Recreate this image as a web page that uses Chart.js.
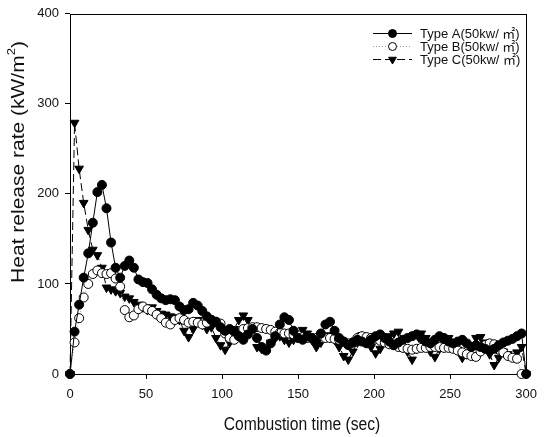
<!DOCTYPE html>
<html>
<head>
<meta charset="utf-8">
<title>Heat release rate</title>
<script src="https://cdn.jsdelivr.net/npm/chart.js@4.4.1/dist/chart.umd.min.js"></script>
<style>
    html, body { margin: 0; padding: 0; background: #fff; }
    #wrap { width: 545px; height: 437px; }
</style>
</head>
<body>
<div id="wrap"><canvas id="hrr" width="545" height="437"></canvas></div>
<script>
// Время горения, с (шаг 3 с)
const timeSec = [
    0, 3, 6, 9, 12, 15, 18, 21, 24, 27, 30, 33, 36, 39, 42, 45, 48, 51, 54, 57,
    60, 63, 66, 69, 72, 75, 78, 81, 84, 87, 90, 93, 96, 99, 102, 105, 108, 111, 114, 117,
    120, 123, 126, 129, 132, 135, 138, 141, 144, 147, 150, 153, 156, 159, 162, 165, 168, 171, 174, 177,
    180, 183, 186, 189, 192, 195, 198, 201, 204, 207, 210, 213, 216, 219, 222, 225, 228, 231, 234, 237,
    240, 243, 246, 249, 252, 255, 258, 261, 264, 267, 270, 273, 276, 279, 282, 285, 288, 291, 294, 297,
    300
];

// Type A (50kw/㎡)
const typeA = [
    0, 47, 77, 107, 134, 168, 202, 210, 184, 146, 118, 107, 120, 126, 118, 105, 102, 101, 94, 88,
    84, 82, 83, 82, 75, 71, 72, 79, 76, 70, 64, 60, 58, 52, 48, 50, 47, 42, 38, 44,
    50, 40, 30, 26, 34, 42, 55, 63, 60, 48, 40, 38, 42, 40, 36, 45, 55, 58, 48, 40,
    36, 32, 35, 38, 36, 34, 38, 42, 44, 40, 36, 32, 35, 38, 40, 42, 44, 40, 36, 34,
    38, 42, 40, 36, 34, 36, 38, 34, 30, 32, 30, 28, 26, 28, 32, 35, 37, 39, 42, 45,
    0
];

// Type B (50kw/㎡)
const typeB = [
    0, 35, 62, 85, 100, 111, 115, 112, 111, 112, 106, 97, 71, 63, 65, 72, 75, 72, 70, 66,
    62, 57, 55, 60, 62, 60, 57, 58, 57, 55, 57, 60, 58, 56, 45, 40, 38, 45, 50, 51,
    52, 52, 51, 50, 49, 47, 46, 45, 45, 44, 43, 41, 40, 40, 40, 40, 40, 40, 39, 38,
    36, 34, 35, 40, 42, 41, 40, 39, 37, 35, 33, 32, 30, 29, 28, 27, 28, 29, 29, 30,
    30, 30, 29, 29, 28, 26, 24, 22, 20, 19, 25, 32, 34, 33, 27, 24, 20, 18, 17, 0,
    null
];

// Type C (50kw/㎡)
const typeC = [
    0, 279, 228, 190, 160, 138, 132, 118, 96, 94, 92, 90, 86, 84, 80, 77, 74, 71, 74, 70,
    67, 66, 64, 63, 60, 48, 41, 50, 60, 55, 50, 52, 40, 32, 27, 35, 50, 60, 65, 60,
    52, 30, 28, 27, 35, 40, 42, 38, 35, 38, 44, 49, 45, 38, 30, 35, 40, 43, 38, 30,
    20, 16, 25, 35, 43, 38, 30, 23, 28, 36, 42, 45, 47, 38, 25, 16, 28, 45, 40, 25,
    19, 28, 35, 40, 35, 27, 18, 22, 32, 40, 41, 35, 22, 10, 18, 25, 22, 19, 24, 30,
    0
];

const seriesLabels = ['Type A(50kw/ \u33A1)', 'Type B(50kw/ \u33A1)', 'Type C(50kw/ \u33A1)'];
const xTicks = [0, 50, 100, 150, 200, 250, 300];
const yTicks = [0, 100, 200, 300, 400];

const FONT = 'Arial, "Liberation Sans", "Noto Sans CJK KR", sans-serif';

function toPoints(values) {
    return timeSec.map((t, i) => ({ x: t, y: values[i] }));
}

// Рамка вокруг области построения
const framePlugin = {
    id: 'frame',
    beforeDatasetsDraw(chart) {
        const a = chart.chartArea;
        const ctx = chart.ctx;
        ctx.save();
        ctx.strokeStyle = '#000';
        ctx.lineWidth = 1;
        ctx.strokeRect(Math.round(a.left) + 0.5, Math.round(a.top) + 0.5,
            Math.round(a.right - a.left), Math.round(a.bottom - a.top));
        ctx.restore();
    }
};

// Подписи осей (текст в оригинале слегка сжат по горизонтали)
const axisTitlePlugin = {
    id: 'axisTitles',
    afterDraw(chart) {
        const ctx = chart.ctx;
        ctx.save();
        ctx.fillStyle = '#111';
        ctx.textBaseline = 'middle';

        // ось X
        ctx.save();
        ctx.translate(302, 425);
        ctx.scale(0.87, 1);
        ctx.font = '18px ' + FONT;
        ctx.textAlign = 'center';
        ctx.fillText('Combustion time (sec)', 0, 0);
        ctx.restore();

        // ось Y с верхним индексом
        ctx.save();
        ctx.translate(19, 162);
        ctx.rotate(-Math.PI / 2);
        ctx.scale(1, 0.85);
        ctx.font = '21px ' + FONT;
        const main = 'Heat release rate (kW/m';
        const supFont = '13px ' + FONT;
        const wMain = ctx.measureText(main).width;
        const wClose = ctx.measureText(')').width;
        ctx.font = supFont;
        const wSup = ctx.measureText('2').width;
        const total = wMain + wSup + wClose;
        let x0 = -total / 2;
        ctx.textAlign = 'left';
        ctx.font = '21px ' + FONT;
        ctx.fillText(main, x0, 0);
        ctx.font = supFont;
        ctx.fillText('2', x0 + wMain, -8);
        ctx.font = '21px ' + FONT;
        ctx.fillText(')', x0 + wMain + wSup, 0);
        ctx.restore();

        ctx.restore();
    }
};

// Легенда в правом верхнем углу, как в SigmaPlot
const legendPlugin = {
    id: 'cornerLegend',
    afterDraw(chart) {
        const ctx = chart.ctx;
        ctx.save();
        const rowsY = [33, 46, 59];
        chart.data.datasets.forEach((ds, i) => {
            const y = rowsY[i];
            ctx.save();
            ctx.strokeStyle = ds.borderColor;
            ctx.lineWidth = ds.borderWidth;
            ctx.setLineDash(ds.borderDash || []);
            ctx.beginPath();
            ctx.moveTo(373, y + 0.5);
            ctx.lineTo(412, y + 0.5);
            ctx.stroke();
            ctx.restore();

            ctx.save();
            ctx.fillStyle = ds.pointBackgroundColor;
            ctx.strokeStyle = ds.pointBorderColor;
            ctx.lineWidth = 1;
            Chart.helpers.drawPoint(ctx, {
                pointStyle: ds.pointStyle,
                rotation: ds.pointRotation || 0,
                radius: ds.pointRadius - 0.5,
                borderWidth: 1
            }, 392.5, y + 0.5);
            ctx.restore();

            ctx.fillStyle = '#111';
            ctx.font = '13px ' + FONT;
            ctx.textAlign = 'left';
            ctx.textBaseline = 'middle';
            ctx.fillText(ds.label, 420, y + 1);
        });
        ctx.restore();
    }
};

const tickGrid = {
    display: true,
    drawOnChartArea: false,
    drawTicks: true,
    tickLength: 5,
    color: '#000',
    lineWidth: 1
};

const chart = new Chart(document.getElementById('hrr'), {
    type: 'line',
    data: {
        datasets: [
            {
                label: seriesLabels[0],
                data: toPoints(typeA),
                borderColor: '#000',
                borderWidth: 1,
                pointStyle: 'circle',
                pointRadius: 4.5,
                pointBackgroundColor: '#000',
                pointBorderColor: '#000',
                pointBorderWidth: 1,
                tension: 0,
                clip: false
            },
            {
                label: seriesLabels[1],
                data: toPoints(typeB),
                borderColor: '#9a9a9a',
                borderWidth: 1,
                borderDash: [1, 2],
                pointStyle: 'circle',
                pointRadius: 4.5,
                pointBackgroundColor: '#fff',
                pointBorderColor: '#000',
                pointBorderWidth: 1,
                tension: 0,
                clip: false
            },
            {
                label: seriesLabels[2],
                data: toPoints(typeC),
                borderColor: '#000',
                borderWidth: 1,
                borderDash: [8, 4],
                pointStyle: 'triangle',
                pointRotation: 180,
                pointRadius: 5,
                pointBackgroundColor: '#000',
                pointBorderColor: '#000',
                pointBorderWidth: 1,
                tension: 0,
                clip: false
            }
        ]
    },
    options: {
        responsive: false,
        animation: false,
        devicePixelRatio: 1,
        layout: { padding: { top: 13, right: 10, left: 0, bottom: 0 } },
        plugins: {
            legend: { display: false },
            tooltip: { enabled: false },
            title: { display: false }
        },
        scales: {
            x: {
                type: 'linear',
                min: 0,
                max: 300,
                afterBuildTicks(scale) { scale.ticks = xTicks.map(v => ({ value: v })); },
                afterFit(scale) { scale.height = 63; },
                grid: tickGrid,
                border: { display: false },
                ticks: {
                    padding: 8,
                    maxRotation: 0,
                    color: '#111',
                    font: { family: FONT, size: 13 }
                }
            },
            y: {
                type: 'linear',
                min: 0,
                max: 400,
                afterBuildTicks(scale) { scale.ticks = yTicks.map(v => ({ value: v })); },
                afterFit(scale) { scale.width = 70; },
                grid: tickGrid,
                border: { display: false },
                ticks: {
                    padding: 6,
                    color: '#111',
                    font: { family: FONT, size: 13 }
                }
            }
        }
    },
    plugins: [framePlugin, axisTitlePlugin, legendPlugin]
});
</script>
</body>
</html>
